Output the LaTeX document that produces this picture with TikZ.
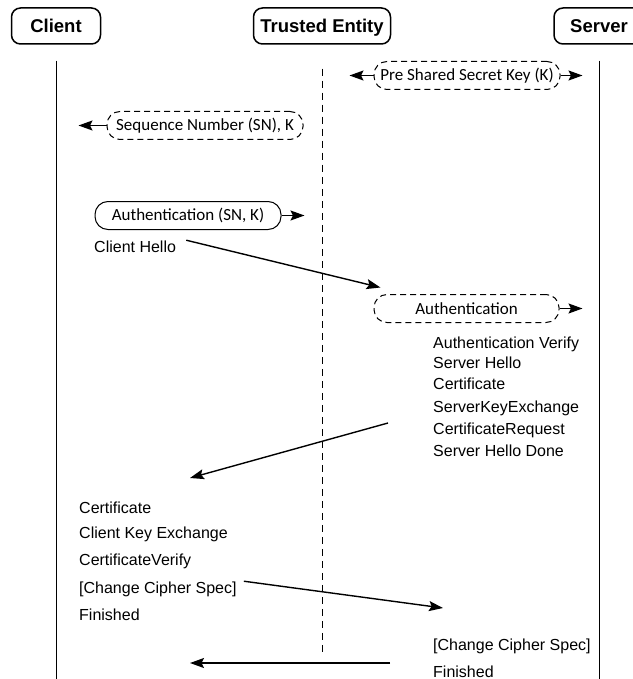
\documentclass[tikz,border=0pt]{standalone}
\usepackage{fontspec}
\setmainfont{Liberation Sans}
\newfontfamily\labelfont{Carlito}
\usetikzlibrary{arrows.meta}

\begin{document}
\begin{tikzpicture}[x=1pt, y=-1pt,
    party/.style={draw, line width=1.5pt, rounded corners=9pt, minimum height=36pt, inner sep=0pt,
        text height=13pt, text depth=0pt, font=\fontsize{18.5}{22}\selectfont\bfseries},
    keybox/.style={line width=1pt, rounded corners=13pt, minimum height=28pt, inner sep=0pt,
        font=\fontsize{17}{20}\selectfont\labelfont},
    dashbox/.style={keybox, draw, dash pattern=on 6pt off 4pt},
    msg/.style={anchor=base west, inner sep=0pt, font=\fontsize{16}{19}\selectfont},
    flow/.style={line width=1.4pt, -{Stealth[length=14pt, width=10pt, inset=2.5pt]}},
    lifeline/.style={line width=1pt}]
    \useasboundingbox (0,0) rectangle (632,679);
    % Parties
    \node[party, minimum width=89pt] (client) at (56,26) {Client};
    \node[party, minimum width=137pt] (trusted) at (322,26) {Trusted Entity};
    \node[party, minimum width=90pt] (server) at (599,26) {Server};
    % Lifelines
    \draw[lifeline] (client.south) ++(0,16) -- ++(0,619);
    \draw[lifeline, dash pattern=on 7pt off 5pt] (trusted.south) ++(0,24) -- ++(0,587);
    \draw[lifeline] (server.south) ++(0,16) -- ++(0,619);
    % Key distribution
    \node[dashbox, minimum width=186pt] (psk) at (467,75.5) {Pre Shared Secret Key (K)};
    \draw[flow] (psk.west) -- ++(-24,0);
    \draw[flow] (psk.east) -- ++(22,0);
    \node[dashbox, minimum width=196pt] (sn) at (205,125.5) {Sequence Number (SN), K};
    \draw[flow] (sn.west) -- ++(-28,0);
    % Authentication
    \node[keybox, draw, minimum width=186pt] (authsn) at (188,215.5) {Authentication (SN, K)};
    \draw[flow] (authsn.east) -- ++(23,0);
    \node[msg] (hello) at (94,252) {Client Hello};
    \node[dashbox, minimum width=185pt] (auth) at (466.5,308.5) {Authentication};
    \draw[flow] (auth.east) -- ++(23,0);
    \draw[flow] ([xshift=10pt]hello.north east) -- ([shift={(7pt,6.5pt)}]auth.north west);
    % Server reply
    \foreach \y/\t [count=\i] in {348/Authentication Verify, 368/Server Hello, 389/Certificate,
        412/ServerKeyExchange, 434/CertificateRequest, 456/Server Hello Done}
        \node[msg] (srv\i) at (433,\y) {\t};
    % Client reply
    \foreach \y/\t [count=\i] in {513/Certificate, 538/Client Key Exchange, 565/CertificateVerify,
        593/{[Change Cipher Spec]}, 620/Finished}
        \node[msg] (cli\i) at (79,\y) {\t};
    \draw[flow] ([shift={(-45pt,11pt)}]srv5.base west) -- ([shift={(111pt,35pt)}]cli1.base west);
    % Server finish
    \node[msg] (fin1) at (433,650) {[Change Cipher Spec]};
    \node[msg] (fin2) at (433,677) {Finished};
    \draw[flow] ([xshift=7pt]cli4.north east) -- ([shift={(10pt,42pt)}]fin1.base west);
    \draw[flow] ([shift={(-43pt,14pt)}]fin2.base west) -- ++(-200,0);
\end{tikzpicture}
\end{document}
